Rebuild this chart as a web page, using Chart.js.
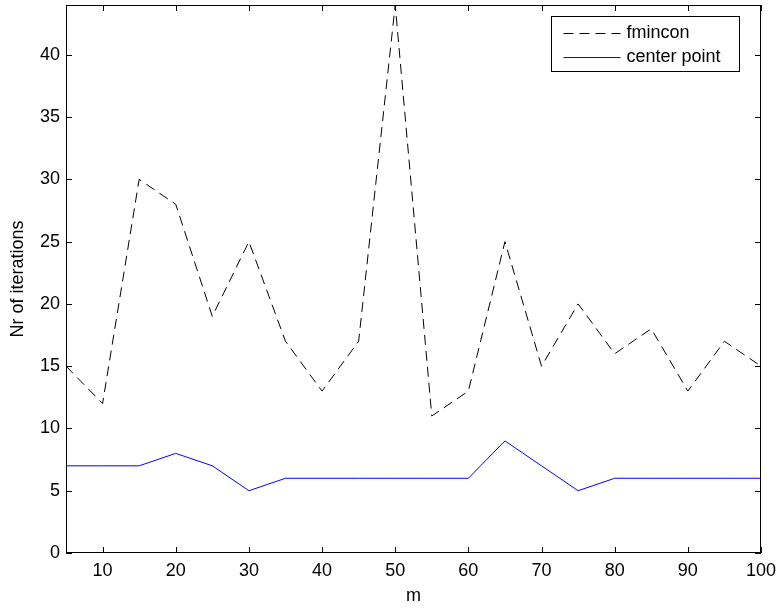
<!DOCTYPE html>
<html><head><meta charset="utf-8">
<script src="https://cdn.jsdelivr.net/npm/chart.js@4/dist/chart.umd.min.js"></script>
<style>html,body{margin:0;padding:0;background:#fff}#wrap{width:779px;height:608px}</style>
</head><body><div id="wrap"><canvas id="c" width="779" height="608"></canvas></div>
<script>
const mValues = [5,10,15,20,25,30,35,40,45,50,55,60,65,70,75,80,85,90,95,100];
const fminconIter = [15,12,30,28,19,25,17,13,17,44,11,13,25,15,20,16,18,13,17,15];
const centerPointIter = [7,7,7,8,7,5,6,6,6,6,6,6,9,7,5,6,6,6,6,6];
const xTickValues = [10,20,30,40,50,60,70,80,90,100];
const yTickValues = [0,5,10,15,20,25,30,35,40];
const seriesNames = ['fmincon','center point'];
const FONT = 'Liberation Sans, Arial, sans-serif';

const frame = {
  id:'frame',
  afterDatasetsDraw(chart){
    const {ctx, chartArea:a, scales:{x,y}} = chart;
    ctx.save();
    ctx.strokeStyle='#000'; ctx.lineWidth=1;
    ctx.strokeRect(Math.round(a.left)+0.5, Math.round(a.top)+0.5, Math.round(a.right-a.left)-1, Math.round(a.bottom-a.top)-1);
    ctx.beginPath();
    const L=6;
    xTickValues.forEach(v=>{const px=Math.round(x.getPixelForValue(v))+0.5;
      ctx.moveTo(px,a.bottom); ctx.lineTo(px,a.bottom-L);
      ctx.moveTo(px,a.top); ctx.lineTo(px,a.top+L);});
    yTickValues.forEach(v=>{const py=Math.round(y.getPixelForValue(v))+0.5;
      ctx.moveTo(a.left,py); ctx.lineTo(a.left+L,py);
      ctx.moveTo(a.right,py); ctx.lineTo(a.right-L,py);});
    ctx.stroke();
    // legend
    const bx=551.5, by=16.5, bw=188, bh=55;
    ctx.fillStyle='#fff'; ctx.fillRect(bx,by,bw,bh);
    ctx.strokeRect(bx,by,bw,bh);
    ctx.font='18px '+FONT; ctx.textBaseline='middle'; ctx.fillStyle='#000';
    const ds = chart.data.datasets;
    [0,1].forEach(i=>{
      const yy = by + 16 + i*24;
      ctx.beginPath();
      ctx.strokeStyle = ds[i].borderColor; ctx.setLineDash(ds[i].borderDash||[]);
      ctx.moveTo(bx+12, Math.round(yy)+0.5); ctx.lineTo(bx+69, Math.round(yy)+0.5); ctx.stroke();
      ctx.setLineDash([]);
      ctx.fillText(seriesNames[i], bx+75, yy+1);
    });
    ctx.restore();
  }
};

new Chart(document.getElementById('c'), {
  type:'line',
  data:{datasets:[
    {label:seriesNames[0], data:mValues.map((m,i)=>({x:m,y:fminconIter[i]})), borderColor:'#000', borderWidth:1, borderDash:[10,6], pointRadius:0, fill:false, tension:0},
    {label:seriesNames[1], data:mValues.map((m,i)=>({x:m,y:centerPointIter[i]})), borderColor:'#0000ff', borderWidth:1, pointRadius:0, fill:false, tension:0}
  ]},
  options:{
    responsive:false, animation:false, devicePixelRatio:1,
    layout:{padding:{top:5,right:18,left:0,bottom:0}},
    plugins:{legend:{display:false}, tooltip:{enabled:false}},
    scales:{
      x:{type:'linear', min:5, max:100,
        afterBuildTicks(s){s.ticks = xTickValues.map(v=>({value:v}));},
        afterFit(s){s.height=55; s.paddingLeft=0; s.paddingRight=0;},
        grid:{display:false, drawTicks:false}, border:{display:false},
        ticks:{color:'#000', font:{family:FONT,size:18}, padding:7, maxRotation:0, autoSkip:false},
        title:{display:true, text:'m', color:'#000', font:{family:FONT,size:18}, padding:{top:0,bottom:1}}
      },
      y:{type:'linear', min:0, max:44,
        afterBuildTicks(s){s.ticks = yTickValues.map(v=>({value:v}));},
        afterFit(s){s.width=66; s.paddingTop=0; s.paddingBottom=0;},
        grid:{display:false, drawTicks:false}, border:{display:false},
        ticks:{color:'#000', font:{family:FONT,size:18}, padding:6, autoSkip:false},
        title:{display:true, text:'Nr of iterations', color:'#000', font:{family:FONT,size:18}, padding:{top:7,bottom:0}}
      }
    }
  },
  plugins:[frame]
});
</script></body></html>
